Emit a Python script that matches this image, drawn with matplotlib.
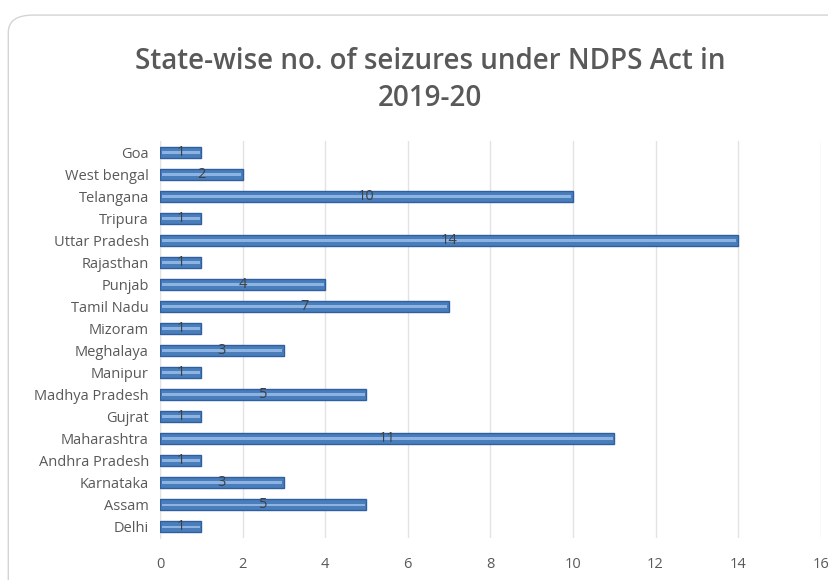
import matplotlib
matplotlib.use('Agg')
import matplotlib.pyplot as plt
from matplotlib.patches import FancyBboxPatch

plt.rcParams['font.family'] = ['Open Sans', 'DejaVu Sans']

states = ['Goa', 'West bengal', 'Telangana', 'Tripura', 'Uttar Pradesh', 'Rajasthan',
          'Punjab', 'Tamil Nadu', 'Mizoram', 'Meghalaya', 'Manipur', 'Madhya Pradesh',
          'Gujrat', 'Maharashtra', 'Andhra Pradesh', 'Karnataka', 'Assam', 'Delhi']
seizures = [1, 2, 10, 1, 14, 1, 4, 7, 1, 3, 1, 5, 1, 11, 1, 3, 5, 1]
xticks = [0, 2, 4, 6, 8, 10, 12, 14, 16]

fig = plt.figure(figsize=(8.29, 5.8), dpi=100)
ax = fig.add_axes([0.193, 0.0724, 0.797, 0.684])

# rounded frame of the chart area
fig.patches.append(FancyBboxPatch((0.01, -0.05), 1.05, 1.024, boxstyle='round,pad=0,rounding_size=0.03',
                                  transform=fig.transFigure, fc='none', ec='#d4d4d4', lw=1.0))

y = list(range(len(states)))
ax.barh(y, seizures, height=0.5, color='#4a7ebb', edgecolor='#2f5f9e', lw=1.0, zorder=3)
# bevel highlight
ax.barh(y, [v - 0.08 for v in seizures], left=0.04, height=0.13, color='#8db3e2', lw=0, zorder=4)
for yi, v in zip(y, seizures):
    ax.text(v / 2, yi, str(v), ha='center', va='center', fontsize=10.5, color='#404040', zorder=5)

ax.set_ylim(len(states) - 0.5, -0.5)
ax.set_yticks(y)
ax.set_yticklabels(states, fontsize=10.5, color='#595959')
ax.set_xlim(0, 16)
ax.set_xticks(xticks)
ax.set_xticklabels([str(t) for t in xticks], fontsize=10.5, color='#595959')
ax.tick_params(length=0, pad=8)
ax.tick_params(axis='x', pad=14)
ax.grid(axis='x', color='#e3e3e3', lw=1, zorder=0)
for s in ['top', 'right', 'bottom']:
    ax.spines[s].set_visible(False)
ax.spines['left'].set_color('#e3e3e3')

fig.text(0.519, 0.862, 'State-wise no. of seizures under NDPS Act in\n2019-20', ha='center', va='center',
         fontsize=20, fontweight='semibold', color='#595959', linespacing=1.4)

fig.savefig('out.png', dpi=100)
